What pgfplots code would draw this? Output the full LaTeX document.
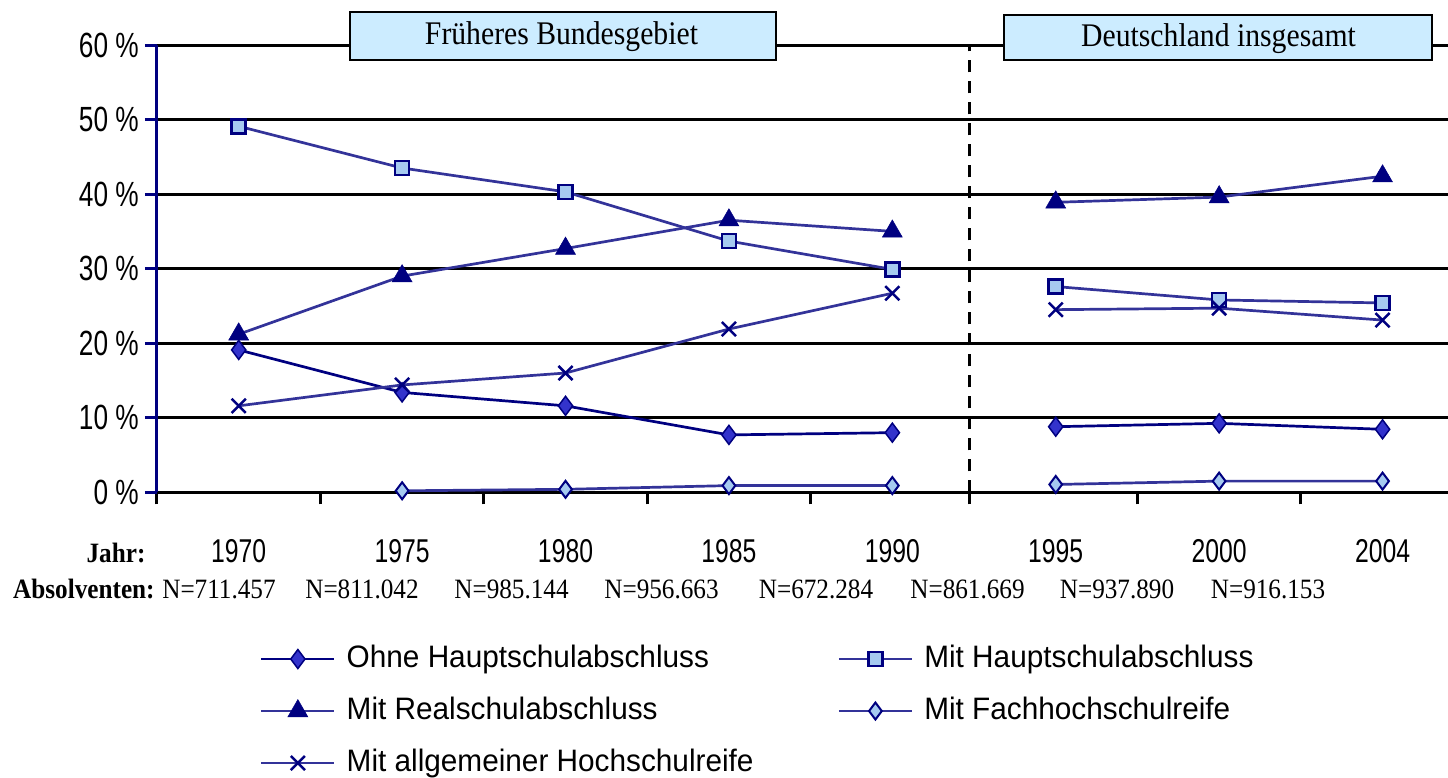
\documentclass[border=0pt]{standalone}
\usepackage{pgfplots}
\pgfplotsset{compat=1.18}
\usepackage{fontspec}
\setmainfont{Liberation Serif}
\newfontfamily\ticksans[FakeStretch=0.75]{Liberation Sans}
\newfontfamily\legsans[FakeStretch=0.96]{Liberation Sans}
\newfontfamily\serifn[FakeStretch=0.9]{Liberation Serif}
\definecolor{navyc}{HTML}{000080}
\definecolor{linec}{HTML}{333399}
\definecolor{ohnefill}{HTML}{3333CC}
\definecolor{lightfill}{HTML}{A6CAF0}
\definecolor{boxfill}{HTML}{CCECFF}
\begin{document}
\begin{tikzpicture}
\path[use as bounding box, clip] (-157pt,-284.7pt) rectangle (1291pt,492.3pt);
\begin{axis}[
  at={(0pt,0pt)}, anchor=south west,
  scale only axis, width=1291pt, height=447.3pt,
  xmin=-0.5, xmax=7.4, ymin=0, ymax=60,
  clip=false,
  axis lines=left,
  x axis line style={-, black, line width=3pt},
  y axis line style={-, navyc, line width=3pt},
  xtick={-0.5,0.5,1.5,2.5,3.5,4.47,5.5,6.5}, xticklabels={},
  ytick={0,10,...,60},
  yticklabels={0 \%,10 \%,20 \%,30 \%,40 \%,50 \%,60 \%},
  tick align=outside, major tick length=12pt,
  x tick style={black, line width=3pt},
  y tick style={navyc, line width=3pt},
  ymajorgrids, grid style={black, line width=3pt},
  yticklabel style={font=\ticksans\fontsize{35}{35}\selectfont, anchor=east, inner sep=0pt, xshift=-6pt},
  unbounded coords=jump,
  legend columns=2,
  legend cell align=left,
  legend style={at={(0.0798,-0.3392)}, anchor=north west, draw=none, fill=none,
    inner sep=0pt, outer sep=0pt, row sep=22pt,
    font=\legsans\fontsize{31}{31}\selectfont,
    nodes={inner sep=0pt, text height=23pt, text depth=7pt},
    /tikz/every odd column/.style={column sep=11pt},
    /tikz/every even column/.style={column sep=84pt}},
  legend image code/.code={\draw[mark repeat=2,mark phase=2] plot coordinates {(0pt,0pt) (36.5pt,0pt) (73pt,0pt)};},
]
\draw[black, line width=3pt, dash pattern=on 12pt off 9pt] (axis cs:4.47,0) -- (axis cs:4.47,60);

\addplot[navyc, line width=2.7pt, mark=diamond*, mark size=9.5pt,
  mark options={solid, fill=ohnefill, draw=navyc, line width=1.5pt}]
  coordinates {(0,19.1) (1,13.4) (2,11.6) (3,7.7) (4,8.0) (4.5,nan) (5,8.8) (6,9.25) (7,8.45)};
\addlegendentry{Ohne Hauptschulabschluss}

\addplot[linec, line width=2.7pt, mark=square*, mark size=7pt,
  mark options={solid, fill=lightfill, draw=navyc, line width=2.5pt}]
  coordinates {(0,49.1) (1,43.5) (2,40.3) (3,33.7) (4,29.9) (4.5,nan) (5,27.6) (6,25.8) (7,25.4)};
\addlegendentry{Mit Hauptschulabschluss}

\addplot[linec, line width=2.7pt, mark=triangle*, mark size=11.5pt,
  mark options={solid, fill=navyc, draw=navyc, line width=0.5pt}]
  coordinates {(0,21.2) (1,29.0) (2,32.7) (3,36.5) (4,35.0) (4.5,nan) (5,38.9) (6,39.6) (7,42.4)};
\addlegendentry{Mit Realschulabschluss}

\addplot[linec, line width=2.7pt, mark=diamond*, mark size=8.5pt,
  mark options={solid, fill=lightfill, draw=navyc, line width=2pt}]
  coordinates {(1,0.2) (2,0.4) (3,0.9) (4,0.9) (4.5,nan) (5,1.05) (6,1.5) (7,1.5)};
\addlegendentry{Mit Fachhochschulreife}

\addplot[linec, line width=2.7pt, mark=x, mark size=10pt,
  mark options={solid, draw=navyc, line width=2.5pt}]
  coordinates {(0,11.6) (1,14.4) (2,16.0) (3,21.9) (4,26.7) (4.5,nan) (5,24.5) (6,24.7) (7,23.1)};
\addlegendentry{Mit allgemeiner Hochschulreife}

\begin{scope}[every node/.style={anchor=base, inner sep=0pt, font=\ticksans\fontsize{33}{33}\selectfont}]
\node[yshift=-69.7pt] at (axis cs:0,0) {1970};
\node[yshift=-69.7pt] at (axis cs:1,0) {1975};
\node[yshift=-69.7pt] at (axis cs:2,0) {1980};
\node[yshift=-69.7pt] at (axis cs:3,0) {1985};
\node[yshift=-69.7pt] at (axis cs:4,0) {1990};
\node[yshift=-69.7pt] at (axis cs:5,0) {1995};
\node[yshift=-69.7pt] at (axis cs:6,0) {2000};
\node[yshift=-69.7pt] at (axis cs:7,0) {2004};
\end{scope}
\end{axis}

% title boxes
\draw[line width=2.5pt, fill=boxfill] (193pt,432.3pt) rectangle (619pt,480.3pt);
\node[anchor=base, inner sep=0pt, font=\serifn\fontsize{33}{33}\selectfont] at (404.5pt,447.3pt) {Früheres Bundesgebiet};
\draw[line width=2.5pt, fill=boxfill] (847pt,432.3pt) rectangle (1275pt,477.3pt);
\node[anchor=base, inner sep=0pt, font=\serifn\fontsize{33}{33}\selectfont] at (1061.5pt,445.3pt) {Deutschland insgesamt};

% row labels
\begin{scope}[every node/.style={inner sep=0pt, font=\serifn\fontsize{28}{28}\selectfont}]
\node[anchor=base, font=\serifn\bfseries\fontsize{28}{28}\selectfont] at (-41pt,-69.7pt) {Jahr:};
\node[anchor=base west, font=\serifn\bfseries\fontsize{28}{28}\selectfont] at (-144pt,-105.7pt) {Absolventen:};
\node[anchor=base] at (62pt,-105.7pt) {N=711.457};
\node[anchor=base] at (205pt,-105.7pt) {N=811.042};
\node[anchor=base] at (354.5pt,-105.7pt) {N=985.144};
\node[anchor=base] at (504.5pt,-105.7pt) {N=956.663};
\node[anchor=base] at (659pt,-105.7pt) {N=672.284};
\node[anchor=base] at (810.5pt,-105.7pt) {N=861.669};
\node[anchor=base] at (960pt,-105.7pt) {N=937.890};
\node[anchor=base] at (1111pt,-105.7pt) {N=916.153};
\end{scope}
\end{tikzpicture}
\end{document}
